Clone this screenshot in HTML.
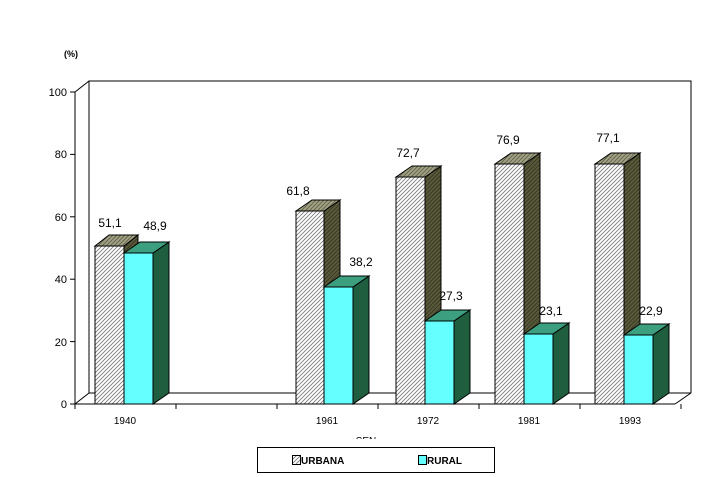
<!DOCTYPE html>
<html><head><meta charset="utf-8"><style>
html,body{margin:0;padding:0;background:#fff;}
svg{display:block;font-family:"Liberation Sans",Arial,sans-serif;}
</style></head><body>
<svg width="709" height="477" viewBox="0 0 709 477" xmlns="http://www.w3.org/2000/svg">
<defs>
<pattern id="hw" patternUnits="userSpaceOnUse" width="4" height="4"><rect width="4" height="4" fill="#fff"/><path d="M-1,1 L1,-1 M0,4 L4,0 M3,5 L5,3" stroke="#777" stroke-width="0.8"/></pattern>
<pattern id="ht" patternUnits="userSpaceOnUse" width="4" height="4"><rect width="4" height="4" fill="#a3a385"/><path d="M-1,1 L1,-1 M0,4 L4,0 M3,5 L5,3" stroke="#666650" stroke-width="1"/></pattern>
<pattern id="hs" patternUnits="userSpaceOnUse" width="4" height="4"><rect width="4" height="4" fill="#5a5a3c"/><path d="M-1,1 L1,-1 M0,4 L4,0 M3,5 L5,3" stroke="#3a3a22" stroke-width="1"/></pattern>
</defs>
<text x="64" y="57" font-size="9" font-weight="bold">(%)</text>
<polyline points="75,404 89,393 89,81 691,81 691,393" fill="none" stroke="#000"/>
<line x1="75" y1="92" x2="89" y2="81" stroke="#000"/>
<line x1="89" y1="393" x2="691" y2="393" stroke="#000"/>
<line x1="675" y1="404" x2="691" y2="393" stroke="#000"/>
<line x1="75" y1="404" x2="675" y2="404" stroke="#000"/>
<line x1="75" y1="92" x2="75" y2="404" stroke="#000"/>
<g stroke="#000">
<line x1="70" y1="404" x2="75" y2="404"/><line x1="70" y1="341.6" x2="75" y2="341.6"/><line x1="70" y1="279.2" x2="75" y2="279.2"/><line x1="70" y1="216.8" x2="75" y2="216.8"/><line x1="70" y1="154.4" x2="75" y2="154.4"/><line x1="70" y1="92" x2="75" y2="92"/>
<line x1="75" y1="404" x2="75" y2="409"/><line x1="176" y1="404" x2="176" y2="409"/><line x1="277" y1="404" x2="277" y2="409"/><line x1="378" y1="404" x2="378" y2="409"/><line x1="479" y1="404" x2="479" y2="409"/><line x1="580" y1="404" x2="580" y2="409"/><line x1="681" y1="404" x2="681" y2="409"/>
</g>
<g font-size="11" text-anchor="end">
<text x="67" y="408">0</text><text x="67" y="346">20</text><text x="67" y="283">40</text><text x="67" y="221">60</text><text x="67" y="158">80</text><text x="67" y="96">100</text>
</g>
<g font-size="10" text-anchor="middle">
<text x="125" y="424">1940</text><text x="327" y="424">1961</text><text x="428" y="424">1972</text><text x="529" y="424">1981</text><text x="630" y="424">1993</text>
</g>
<text x="366" y="444" font-size="10" text-anchor="middle">SEN</text>
<rect x="0" y="439" width="709" height="8" fill="#fff"/>
<g stroke="#000" stroke-width="1">
<polygon points="124,246 138,235 138,393 124,404" fill="url(#hs)"/>
<polygon points="95,246 109,235 138,235 124,246" fill="url(#ht)"/>
<rect x="95" y="246" width="29" height="158" fill="url(#hw)"/>
<polygon points="153,253 169,242 169,393 153,404" fill="#1f5f40"/>
<polygon points="124,253 140,242 169,242 153,253" fill="#3c9f80"/>
<rect x="124" y="253" width="29" height="151" fill="#66ffff"/>
<polygon points="324,211 340,200 340,393 324,404" fill="url(#hs)"/>
<polygon points="296,211 312,200 340,200 324,211" fill="url(#ht)"/>
<rect x="296" y="211" width="28" height="193" fill="url(#hw)"/>
<polygon points="353,287 369,276 369,393 353,404" fill="#1f5f40"/>
<polygon points="324,287 340,276 369,276 353,287" fill="#3c9f80"/>
<rect x="324" y="287" width="29" height="117" fill="#66ffff"/>
<polygon points="425,177 441,166 441,393 425,404" fill="url(#hs)"/>
<polygon points="396,177 412,166 441,166 425,177" fill="url(#ht)"/>
<rect x="396" y="177" width="29" height="227" fill="url(#hw)"/>
<polygon points="454,321 470,310 470,393 454,404" fill="#1f5f40"/>
<polygon points="425,321 441,310 470,310 454,321" fill="#3c9f80"/>
<rect x="425" y="321" width="29" height="83" fill="#66ffff"/>
<polygon points="524,164 540,153 540,393 524,404" fill="url(#hs)"/>
<polygon points="495,164 511,153 540,153 524,164" fill="url(#ht)"/>
<rect x="495" y="164" width="29" height="240" fill="url(#hw)"/>
<polygon points="553,334 569,323 569,393 553,404" fill="#1f5f40"/>
<polygon points="524,334 540,323 569,323 553,334" fill="#3c9f80"/>
<rect x="524" y="334" width="29" height="70" fill="#66ffff"/>
<polygon points="624,164 640,153 640,393 624,404" fill="url(#hs)"/>
<polygon points="595,164 611,153 640,153 624,164" fill="url(#ht)"/>
<rect x="595" y="164" width="29" height="240" fill="url(#hw)"/>
<polygon points="653,335 669,324 669,393 653,404" fill="#1f5f40"/>
<polygon points="624,335 640,324 669,324 653,335" fill="#3c9f80"/>
<rect x="624" y="335" width="29" height="69" fill="#66ffff"/>
</g>
<g font-size="12" text-anchor="middle">
<text x="110" y="227">51,1</text><text x="155" y="230">48,9</text>
<text x="298" y="195">61,8</text><text x="361" y="266">38,2</text>
<text x="408" y="157">72,7</text><text x="451" y="300">27,3</text>
<text x="508" y="144">76,9</text><text x="551" y="315">23,1</text>
<text x="608" y="142">77,1</text><text x="651" y="315">22,9</text>
</g>
<rect x="257.5" y="447.5" width="237" height="25" fill="#fff" stroke="#000"/>
<rect x="292.5" y="455.5" width="8" height="9" fill="url(#hw)" stroke="#000"/>
<text x="301" y="464" font-size="10" font-weight="bold">URBANA</text>
<rect x="418.5" y="455.5" width="8" height="9" fill="#66ffff" stroke="#000"/>
<text x="427" y="464" font-size="10" font-weight="bold">RURAL</text>
</svg>
</body></html>
